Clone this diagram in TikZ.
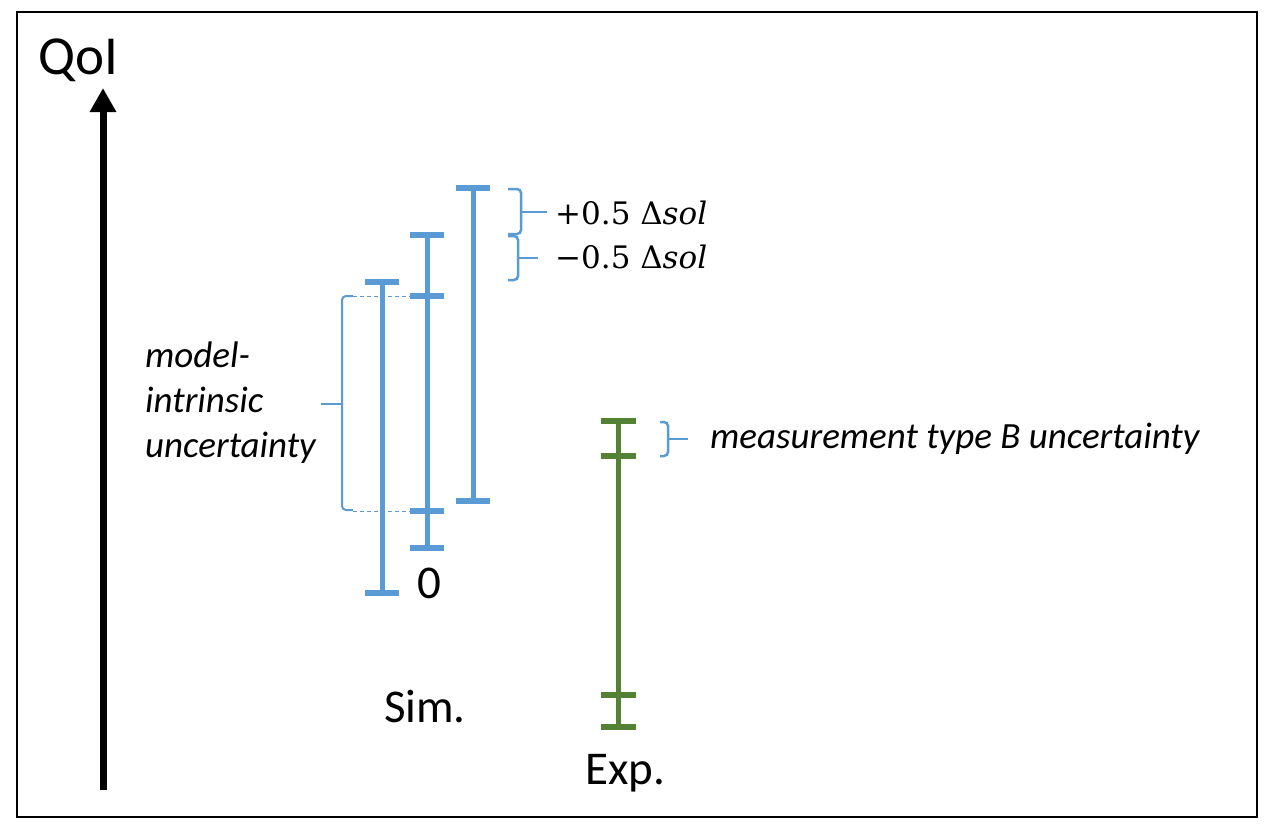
\documentclass[tikz,border=0pt]{standalone}
\usepackage{fontspec}
\setmainfont{Carlito}
\newfontfamily\dvs{DejaVu Serif}
\usetikzlibrary{arrows.meta}
\definecolor{barblue}{RGB}{91,155,213}
\definecolor{bargreen}{RGB}{84,130,53}
\tikzset{
  barline/.style={line width=5pt},
  capline/.style={line width=6pt},
  bracepath/.style={draw=barblue, line width=2.5pt, rounded corners=4pt},
  guide/.style={draw=barblue, line width=1pt, dash pattern=on 4pt off 3pt},
  lbl/.style={inner sep=0pt, font=\fontsize{47}{52}\selectfont},
  itlbl/.style={inner sep=0pt, font=\fontsize{37}{45}\selectfont\itshape},
  mathlbl/.style={inner sep=0pt, font=\fontsize{31}{36}\selectfont\dvs},
}
\begin{document}
\begin{tikzpicture}[x=1pt,y=-1pt]
\useasboundingbox (0,0) rectangle (1275,831);
\fill[white] (0,0) rectangle (1275,831);
\draw[line width=1.5pt] (17,12) rectangle (1257,817);
% axis
\coordinate (axbot) at (103,790);
\coordinate (axtop) at (103,88);
\draw[line width=7pt, -{Triangle[width=25pt,length=24pt]}] (axbot) -- (axtop);
\node[lbl, font=\fontsize{55}{60}\selectfont] (qoi) at (78,60) {QoI};
% simulation bars
\begin{scope}[draw=barblue, color=barblue]
\coordinate (b1t) at (382,282); \coordinate (b1b) at (382,593);
\draw[barline] (b1t) -- (b1b);
\draw[capline] ([xshift=-17pt]b1t) -- ([xshift=17pt]b1t);
\draw[capline] ([xshift=-17pt]b1b) -- ([xshift=17pt]b1b);
\coordinate (b2t) at (427,235); \coordinate (b2b) at (427,548);
\coordinate (b2u) at (427,296); \coordinate (b2l) at (427,511);
\draw[barline] (b2t) -- (b2b);
\foreach \p in {b2t,b2b,b2u,b2l}
  \draw[capline] ([xshift=-17pt]\p) -- ([xshift=17pt]\p);
\coordinate (b3t) at (473,188); \coordinate (b3b) at (473,501);
\draw[barline] (b3t) -- (b3b);
\draw[capline] ([xshift=-17pt]b3t) -- ([xshift=17pt]b3t);
\draw[capline] ([xshift=-17pt]b3b) -- ([xshift=17pt]b3b);
\end{scope}
% experiment bar
\coordinate (e1t) at (618,421); \coordinate (e1b) at (618,727);
\coordinate (e1u) at (618,456); \coordinate (e1l) at (618,695);
\draw[barline, draw=bargreen] (e1t) -- (e1b);
\foreach \p in {e1t,e1b,e1u,e1l}
  \draw[capline, draw=bargreen] ([xshift=-17.5pt]\p) -- ([xshift=17.5pt]\p);
% braces top right
\path[bracepath] (508,189) -- (521,189) -- (521,234) -- (508,234);
\coordinate (br1) at (521,212);
\draw[draw=barblue, line width=2.5pt] (br1) -- (547,212);
\path[bracepath] (508,236) -- (518,236) -- (518,280) -- (508,280);
\coordinate (br2) at (518,258);
\draw[draw=barblue, line width=2.5pt] (br2) -- (538,258);
\node[mathlbl, anchor=west] (plus) at (555,213) {+0.5 Δ\textit{sol}};
\node[mathlbl, anchor=west] (minus) at (555,257) {−0.5 Δ\textit{sol}};
% model-intrinsic brace
\path[bracepath, line width=2pt] (353,296) -- (342,296) -- (342,510) -- (353,510);
\coordinate (mb) at (342,404);
\draw[draw=barblue, line width=2pt] (mb) -- (321,404);
\draw[guide] (353,296) -- ([xshift=-14pt]b2u);
\draw[guide] (353,511) -- ([xshift=-14pt]b2l);
\node[itlbl, anchor=west, align=left] (model) at (145,403) {model-\\intrinsic\\uncertainty};
% measurement brace
\path[bracepath] (660,422) -- (668,422) -- (668,456) -- (660,456);
\coordinate (meb) at (668,439);
\draw[draw=barblue, line width=2.5pt] (meb) -- (688,439);
\node[itlbl, anchor=west] (meas) at (710,439) {measurement type B uncertainty};
% labels
\node[lbl] (zero) at (429,583) {0};
\node[lbl] (sim) at (425,707) {Sim.};
\node[lbl] (exp) at (625,773) {Exp.};
\end{tikzpicture}
\end{document}
